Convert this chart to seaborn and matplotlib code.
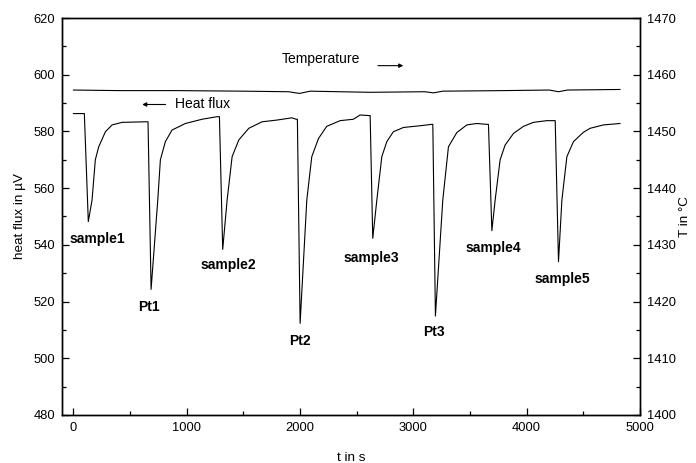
import numpy as np
import pandas as pd
import seaborn as sns
import matplotlib.pyplot as plt

# ---------------- data ----------------
# heat flux signal (left axis), time in s
flux_t = [0, 97, 132, 165, 194, 224, 283, 342, 430, 636, 659, 686, 745, 768, 812, 871,
          989, 1136, 1268, 1289, 1318, 1357, 1401, 1460, 1548, 1665, 1795, 1928, 1966,
          1977, 2001, 2060, 2104, 2163, 2236, 2354, 2471, 2530, 2604, 2619, 2642, 2678,
          2722, 2766, 2824, 2913, 3060, 3163, 3172, 3195, 3260, 3310, 3384, 3472, 3560,
          3649, 3663, 3693, 3722, 3766, 3810, 3884, 3972, 4060, 4178, 4237, 4252, 4281,
          4311, 4355, 4413, 4501, 4560, 4678, 4825]
flux_v = [586.3, 586.3, 548.2, 555.8, 570.0, 574.6, 579.9, 582.3, 583.2, 583.4, 583.4, 524.3,
          555.8, 570.0, 576.4, 580.5, 582.8, 584.3, 585.2, 585.2, 538.4, 555.8, 571.1, 577.0,
          581.1, 583.4, 584.0, 584.8, 584.3, 584.3, 512.3, 555.8, 571.1, 577.5, 581.8, 583.8,
          584.3, 585.8, 585.6, 585.6, 542.3, 555.8, 571.1, 576.4, 579.9, 581.4, 582.0, 582.5,
          582.5, 514.9, 555.8, 574.6, 579.6, 582.3, 582.8, 582.5, 582.5, 545.0, 555.8, 570.0,
          575.2, 579.3, 581.8, 583.2, 583.8, 583.8, 583.8, 534.1, 555.8, 571.1, 576.4, 579.7,
          581.1, 582.3, 582.8]

# furnace temperature (right axis)
temp_t = [0, 400, 900, 1500, 1900, 1995, 2089, 2619, 3100, 3178, 3260, 3800, 4200, 4281,
          4360, 4825]
temp_v = [1457.3, 1457.2, 1457.2, 1457.1, 1457.0, 1456.7, 1457.1, 1456.9, 1457.0, 1456.8,
          1457.1, 1457.2, 1457.3, 1457.0, 1457.3, 1457.4]

peak_names = ['sample1', 'Pt1', 'sample2', 'Pt2', 'sample3', 'Pt3', 'sample4', 'sample5']
peak_t = [214, 668, 1363, 2001, 2626, 3186, 3703, 4313]
peak_y = [542.0, 518.2, 532.9, 506.2, 535.5, 509.4, 539.0, 528.0]

flux = pd.DataFrame({'t': flux_t, 'flux': flux_v})
temp = pd.DataFrame({'t': temp_t, 'T': temp_v})

# ---------------- plot ----------------
sns.set_style("ticks", {"axes.edgecolor": "k", "xtick.color": "k", "ytick.color": "k",
                        "text.color": "k", "axes.labelcolor": "k"})
plt.rcParams['font.family'] = ['Liberation Sans', 'DejaVu Sans']

fig = plt.figure(figsize=(6.96, 4.63), dpi=100)
ax = fig.add_axes([0.0891, 0.1037, 0.8304, 0.8574])
ax2 = ax.twinx()

sns.lineplot(data=flux, x='t', y='flux', color='k', lw=0.8, ax=ax)
sns.lineplot(data=temp, x='t', y='T', color='k', lw=0.8, ax=ax2)

ax.set_xlim(-100, 5000)
ax.set_ylim(480, 620)
ax2.set_ylim(1400, 1470)
ax.set_xticks(np.arange(0, 5001, 1000))
ax.set_xticks(np.arange(500, 5000, 1000), minor=True)
ax.set_yticks(np.arange(480, 621, 20))
ax.set_yticks(np.arange(490, 620, 20), minor=True)
ax2.set_yticks(np.arange(1400, 1471, 10))
ax2.set_yticks(np.arange(1405, 1470, 10), minor=True)

for a in (ax, ax2):
    a.tick_params(which='major', direction='in', length=5, width=0.9, labelsize=9.3, pad=5)
    a.tick_params(which='minor', direction='in', length=3, width=0.9)
    for s in a.spines.values():
        s.set_linewidth(1.0)
        s.set_visible(True)
ax.tick_params(top=False, right=False, which='both')

ax.set_xlabel('t in s', fontsize=9.7, labelpad=13)
ax.set_ylabel('heat flux in µV', fontsize=9.7, labelpad=5)
ax2.set_ylabel('T in °C', fontsize=9.7, labelpad=2)

for name, tx, ty in zip(peak_names, peak_t, peak_y):
    ax.text(tx, ty, name, fontsize=10, fontweight='bold', ha='center', va='center')

ax.text(1839, 605.4, 'Temperature', fontsize=10, ha='left', va='center')
ax.annotate('', xy=(2936, 603.2), xytext=(2663, 603.2),
            arrowprops=dict(arrowstyle='-|>', lw=0.8, color='k', mutation_scale=6))
ax.text(898, 589.6, 'Heat flux', fontsize=10, ha='left', va='center')
ax.annotate('', xy=(583, 589.5), xytext=(838, 589.5),
            arrowprops=dict(arrowstyle='-|>', lw=0.8, color='k', mutation_scale=6))

fig.savefig('out.png', dpi=100)
